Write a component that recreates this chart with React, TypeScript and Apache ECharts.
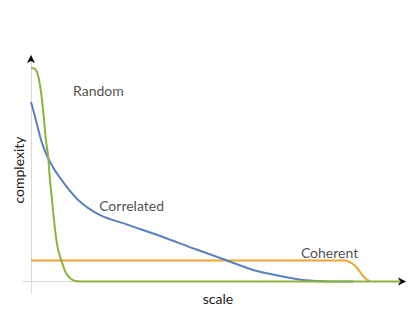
import React, { useEffect, useRef } from "react";
import * as echarts from "echarts";

// scale (x) and complexity (y) values
const randomX = [0, 0.9, 1.8, 2.65, 3.25, 3.85, 4.4, 5.0, 5.6, 6.2, 7.1, 8.0, 9.1, 10.3, 11.5, 13.0, 14.5, 30, 60, 90, 109];
const randomY = [1.0, 0.998, 0.981, 0.92, 0.85, 0.756, 0.663, 0.593, 0.475, 0.382, 0.241, 0.148, 0.091, 0.04, 0.016, 0.002, 0, 0, 0, 0, 0];

const correlatedX = [0, 0.9, 1.8, 3.25, 5.3, 8.55, 13.9, 20.4, 28.6, 38.1, 48.4, 55.8, 65.5, 73.5, 80.2, 88.2, 95];
const correlatedY = [0.841, 0.789, 0.733, 0.649, 0.569, 0.485, 0.382, 0.311, 0.265, 0.213, 0.152, 0.11, 0.054, 0.026, 0.007, 0, 0];

const coherentX = [0, 30, 60, 92.6, 94.1, 95.6, 97.1, 98.5, 100];
const coherentY = [0.098, 0.098, 0.098, 0.098, 0.091, 0.073, 0.044, 0.016, 0];

const seriesNames = ["Random", "Correlated", "Coherent"];
const labelX = [12.4, 20.1, 79.6];
const labelY = [0.897, 0.358, 0.138];

const xTitle = "scale";
const yTitle = "complexity";

const pairs = (xs: number[], ys: number[]) => xs.map((x, i) => [x, ys[i]]);

export default function App() {
  const ref = useRef<HTMLDivElement>(null);
  useEffect(() => {
    if (!ref.current) return;
    const chart = echarts.init(ref.current, undefined, { renderer: "svg" });
    const font = "Lato, 'Open Sans', sans-serif";
    const xRange = { min: -2.36, max: 110.6 };
    const yRange = { min: -0.054, max: 1.061 };
    const hidden = {
      axisTick: { show: false },
      axisLabel: { show: false },
      splitLine: { show: false },
    };
    const lineSeries = (name: string, data: number[][], color: string) => ({
      type: "line",
      name,
      data,
      xAxisIndex: 0,
      yAxisIndex: 0,
      showSymbol: false,
      smooth: 0.3,
      lineStyle: { color, width: 2 },
      itemStyle: { color },
    });
    chart.setOption({
      animation: false,
      grid: { left: 23, right: 9, top: 55, bottom: 19 },
      xAxis: [
        {
          type: "value",
          ...xRange,
          ...hidden,
          axisLine: { onZero: true, lineStyle: { color: "#d9d9d9", width: 1 } },
        },
        {
          type: "value",
          ...xRange,
          ...hidden,
          position: "bottom",
          axisLine: {
            onZero: true,
            symbol: ["none", "arrow"],
            symbolSize: [6, 8],
            lineStyle: { color: "#000", opacity: 0 },
          },
        },
      ],
      yAxis: [
        {
          type: "value",
          ...yRange,
          ...hidden,
          axisLine: { show: true, onZero: true, lineStyle: { color: "#d9d9d9", width: 1 } },
        },
        {
          type: "value",
          ...yRange,
          ...hidden,
          position: "left",
          axisLine: {
            show: true,
            onZero: true,
            symbol: ["none", "arrow"],
            symbolSize: [6, 8],
            lineStyle: { color: "#000", opacity: 0 },
          },
        },
      ],
      series: [
        lineSeries(seriesNames[2], pairs(coherentX, coherentY), "#F0A330"),
        lineSeries(seriesNames[1], pairs(correlatedX, correlatedY), "#5A80C0"),
        lineSeries(seriesNames[0], pairs(randomX, randomY), "#8CB43C"),
        {
          type: "scatter",
          xAxisIndex: 0,
          yAxisIndex: 0,
          symbolSize: 0,
          silent: true,
          data: seriesNames.map((n, i) => ({ value: [labelX[i], labelY[i]], name: n })),
          label: {
            show: true,
            position: "right",
            distance: 0,
            formatter: (p: any) => p.name,
            color: "#1a1a1a",
            fontFamily: font,
            fontSize: 14,
          },
        },
      ],
      graphic: [
        {
          type: "text",
          x: 218,
          y: 298,
          style: {
            text: xTitle,
            fill: "#1a1a1a",
            font: `14px ${font}`,
            textAlign: "center",
            textVerticalAlign: "middle",
          },
        },
        {
          type: "text",
          x: 18,
          y: 170,
          rotation: Math.PI / 2,
          style: {
            text: yTitle,
            fill: "#1a1a1a",
            font: `14px ${font}`,
            textAlign: "center",
            textVerticalAlign: "middle",
          },
        },
      ],
    });
    return () => chart.dispose();
  }, []);
  return <div ref={ref} style={{ width: 415, height: 312, position: "absolute", left: 0, top: 0 }} />;
}
